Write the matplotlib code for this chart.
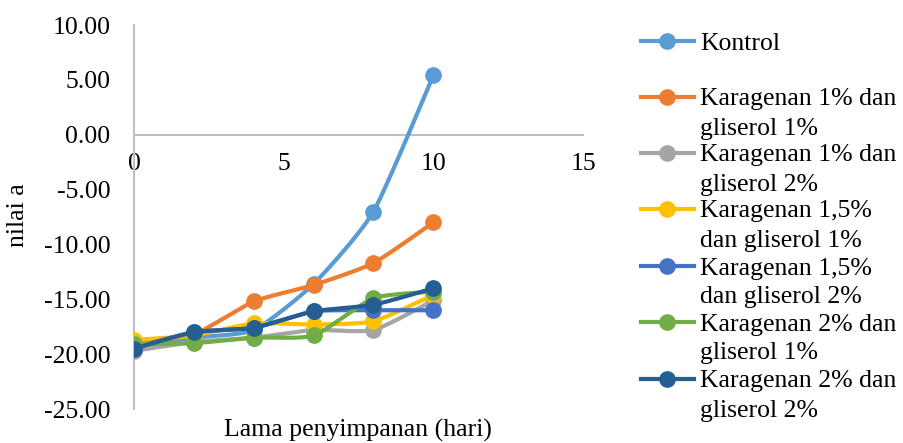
import numpy as np
import matplotlib
matplotlib.use("Agg")
import matplotlib.pyplot as plt
from matplotlib.lines import Line2D

plt.rcParams['font.family'] = ['Liberation Serif', 'DejaVu Serif']
plt.rcParams['font.size'] = 18.5

# data
hari = [0, 2, 4, 6, 8, 10]
kontrol = [-19.3, -18.5, -17.8, -13.6, -7.0, 5.4]
k1_g1 = [-19.0, -18.2, -15.2, -13.7, -11.7, -8.0]
k1_g2 = [-19.7, -18.9, -18.5, -17.8, -17.8, -15.1]
k15_g1 = [-18.7, -18.3, -17.2, -17.3, -17.0, -14.6]
k15_g2 = [-19.4, -18.0, -17.6, -16.1, -16.0, -16.0]
k2_g1 = [-19.1, -19.0, -18.5, -18.3, -14.9, -14.3]
k2_g2 = [-19.5, -18.0, -17.6, -16.1, -15.5, -14.0]

series = [kontrol, k1_g1, k1_g2, k15_g1, k15_g2, k2_g1, k2_g2]
labels = ["Kontrol",
          "Karagenan 1% dan\ngliserol 1%",
          "Karagenan 1% dan\ngliserol 2%",
          "Karagenan 1,5%\ndan gliserol 1%",
          "Karagenan 1,5%\ndan gliserol 2%",
          "Karagenan 2% dan\ngliserol 1%",
          "Karagenan 2% dan\ngliserol 2%"]
colors = ["#5B9BD5", "#ED7D31", "#A5A5A5", "#FFC000", "#4472C4", "#70AD47", "#255E91"]


def smooth(x, y, k=0.6, n=30):
    # bezier through the points, softer than plain catmull-rom
    x = np.asarray(x, float)
    y = np.asarray(y, float)
    px = np.concatenate([[x[0]], x, [x[-1]]])
    py = np.concatenate([[y[0]], y, [y[-1]]])
    t = np.linspace(0, 1, n)[:, None]
    pts = []
    for i in range(1, len(px) - 2):
        p0 = np.array([px[i - 1], py[i - 1]])
        p1 = np.array([px[i], py[i]])
        p2 = np.array([px[i + 1], py[i + 1]])
        p3 = np.array([px[i + 2], py[i + 2]])
        c1 = p1 + k * (p2 - p0) / 6
        c2 = p2 - k * (p3 - p1) / 6
        b = ((1 - t) ** 3) * p1 + 3 * ((1 - t) ** 2) * t * c1 + 3 * (1 - t) * t ** 2 * c2 + t ** 3 * p2
        pts.append(b)
    pts = np.vstack(pts)
    return pts[:, 0], pts[:, 1]


W, H = 904, 443
fig = plt.figure(figsize=(W / 100, H / 100), dpi=100)
ax = fig.add_axes([134 / W, 1 - 409 / H, (583 - 134) / W, (409 - 25) / H])

for vals, col in zip(series, colors):
    sx, sy = smooth(hari, vals)
    ax.plot(sx, sy, color=col, lw=3.0, solid_capstyle='round', zorder=3)
    ax.plot(hari, vals, 'o', color=col, ms=11, zorder=3)

ax.set_xlim(0, 15)
ax.set_ylim(-25, 10)
ax.set_xticks([0, 5, 10, 15])
ax.set_yticks(np.arange(-25, 10.1, 5))
ax.set_yticklabels([f"{v:.2f}" for v in np.arange(-25, 10.1, 5)])
for s in ['top', 'right']:
    ax.spines[s].set_visible(False)
ax.spines['bottom'].set_position(('data', 0))
ax.spines['bottom'].set_color('#BFBFBF')
ax.spines['left'].set_color('#BFBFBF')
ax.spines['bottom'].set_linewidth(1.5)
ax.spines['left'].set_linewidth(1.5)
ax.tick_params(axis='x', length=0, pad=13)
ax.tick_params(axis='y', length=0, pad=17)
ax.patch.set_alpha(0)

fig.text(18 / W, 1 - 215 / H, "nilai a", rotation=90, ha='center', va='center')
fig.text(358 / W, 1 - 430 / H, "Lama penyimpanan (hari)", ha='center', va='center')

# legend drawn by hand (excel style, handle on first line)
y_pos = [41, 97, 153, 209, 266, 322, 379]
for yp, lab, col in zip(y_pos, labels, colors):
    yf = 1 - yp / H
    fig.add_artist(Line2D([641 / W, 694 / W], [yf, yf], color=col, lw=3.0,
                          transform=fig.transFigure))
    fig.add_artist(Line2D([667 / W], [yf], marker='o', ms=11, color=col,
                          transform=fig.transFigure))
    for j, part in enumerate(lab.split("\n")):
        fig.text(700 / W, 1 - (yp + 29 * j) / H, part, ha='left', va='center_baseline')

fig.savefig("out.png", dpi=100)
